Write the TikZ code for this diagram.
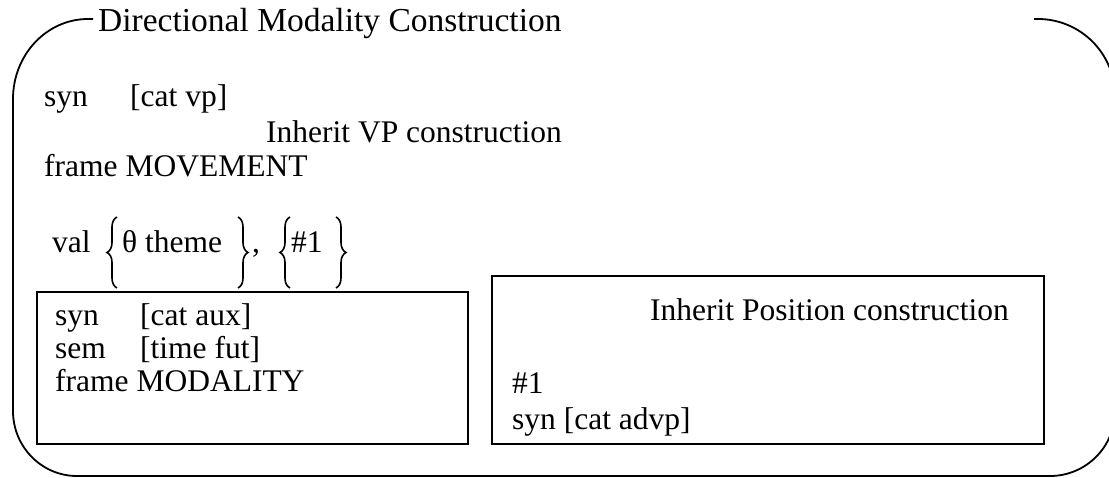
\documentclass[tikz,border=0pt]{standalone}
\usepackage{fontspec}
\setmainfont{Liberation Serif}
\usetikzlibrary{decorations.pathreplacing}
\begin{document}
\begin{tikzpicture}[x=1pt,y=-1pt,
  txt/.style={anchor=base west, inner sep=0pt, font=\fontsize{31.5}{32}\selectfont},
  frm/.style={line width=1.8pt},
  boxline/.style={draw, line width=1.8pt, anchor=north west, inner sep=0pt},
  bracestyle/.style={decorate, decoration={brace, amplitude=10pt}, line width=1.6pt}]
\useasboundingbox (0,0) rectangle (1109,477);
\clip (0,0) rectangle (1109,477);

% outer rounded frame (top edge interrupted by the title)
\draw[frm] (93,19) -- (88,19) .. controls (46.6,19) and (13,54.8) .. (13,99)
  -- (13,411) .. controls (13,446.9) and (41.7,476) .. (77,476)
  -- (1050,476) .. controls (1085.9,476) and (1115,446.9) .. (1115,411)
  -- (1115,96) .. controls (1115,53.5) and (1080.5,19) .. (1038,19) -- (1034,19);

\node[txt, font=\fontsize{33.5}{34}\selectfont] (title) at (98,31) {Directional Modality Construction};

\node[txt] (syn1) at (44,106) {syn};
\node[txt] (catvp) at (130,106) {[cat vp]};
\node[txt] (inhvp) at (266,142) {Inherit VP construction};
\node[txt] (frame1) at (44,176) {frame MOVEMENT};

\node[txt] (val) at (52,252) {val};
\node[txt] (theta) at (122,252) {θ theme};
\node[txt] (comma) at (252,252) {,};
\node[txt] (hash) at (291,252) {\#1};
\draw[bracestyle] (117,288) -- (117,217);
\draw[bracestyle] (238,217) -- (238,288);
\draw[bracestyle] (290,288) -- (290,217);
\draw[bracestyle] (336,217) -- (336,288);

% left box
\node[boxline, minimum width=431pt, minimum height=152pt] (lbox) at (36,291) {};
\node[txt] (syn2) at (55,325) {syn};
\node[txt] (cataux) at (140,325) {[cat aux]};
\node[txt] (sem) at (55,358) {sem};
\node[txt] (time) at (140,358) {[time fut]};
\node[txt] (frame2) at (55,391) {frame MODALITY};

% right box
\node[boxline, minimum width=552pt, minimum height=168pt] (rbox) at (491,275) {};
\node[txt] (inhpos) at (650,320) {Inherit Position construction};
\node[txt] (hash2) at (512,393) {\#1};
\node[txt] (syn3) at (512,429) {syn [cat advp]};
\end{tikzpicture}
\end{document}
